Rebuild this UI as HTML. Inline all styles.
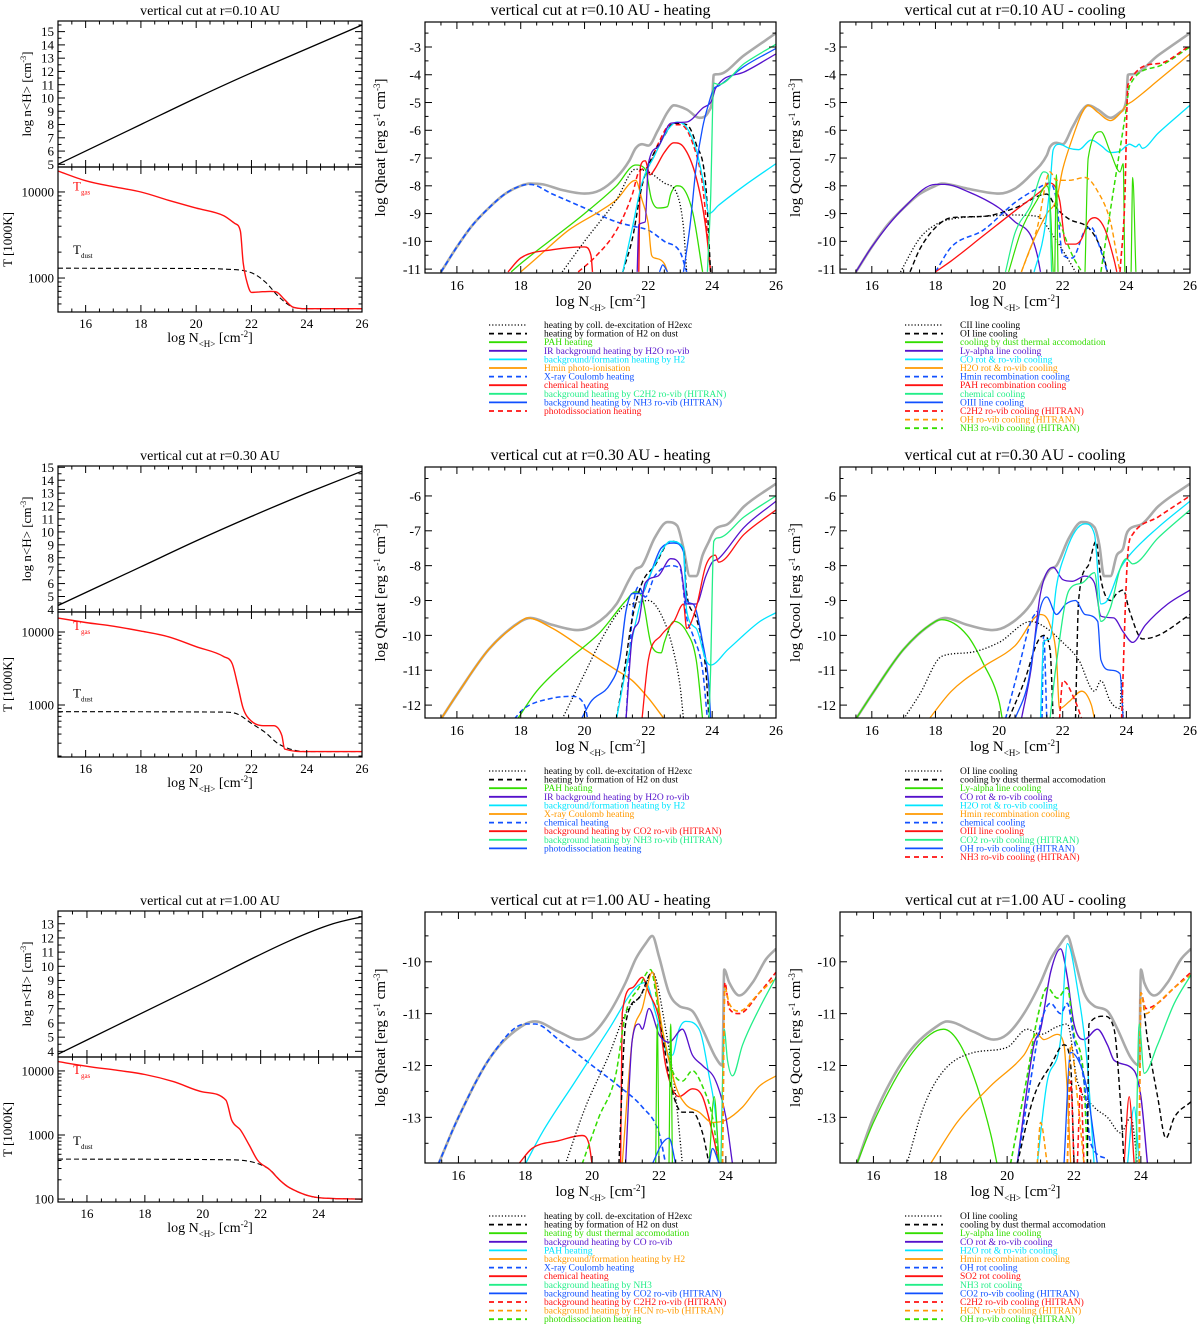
<!DOCTYPE html>
<html><head><meta charset="utf-8"><style>
html,body{margin:0;padding:0;background:#fff;}
svg{display:block;font-family:"Liberation Serif",serif;}
</style></head><body>
<svg id="fig" width="1200" height="1326" viewBox="0 0 1200 1326"></svg>
<script>
// ===== colors (style) =====
const C={gray:'#aaaaaa',blk:'#000',grn:'#33dd00',pur:'#5511cc',cyn:'#00e5ff',org:'#ff9900',blu:'#1050ff',red:'#ff1111',spg:'#22ee88'};
// ===== DATA: row 1 (r=0.10 AU) =====
const r1Dens=[[15,5.0],[18,8.0],[20,10.0],[22,11.9],[24,13.7],[26,15.5]];
const r1Tgas=[[15,17500],[16,13500],[17,11500],[18,10000],[19,8000],[20,6500],[21,5300],[21.4,4300],[21.6,3500],[21.7,1500],[21.8,1000],[22,680],[22.3,690],[22.7,700],[22.9,690],[23.2,560],[23.5,460],[24,440],[26,440]];
const r1Tdust=[[15,1300],[20,1290],[21,1270],[22,1150],[22.5,900],[23,600],[23.5,460],[24,440],[26,440]];
const h1Gray=[[15.5,-11.1],[16,-10.2],[16.5,-9.4],[17,-8.8],[17.5,-8.3],[18,-8.0],[18.3,-7.92],[18.7,-7.95],[19.3,-8.15],[20,-8.28],[20.5,-8.15],[21,-7.7],[21.4,-7.1],[21.6,-6.65],[21.8,-6.5],[22,-6.55],[22.3,-6.0],[22.6,-5.35],[22.8,-5.1],[23.2,-5.25],[23.6,-5.55],[23.9,-5.3],[24.0,-4.9],[24.05,-4.0],[24.2,-3.98],[25,-3.3],[26,-2.5]];
const h1Xray=[[15.5,-11.1],[16,-10.2],[16.5,-9.4],[17,-8.8],[17.5,-8.3],[18,-8.0],[18.3,-7.95],[19,-8.3],[20,-8.8],[21,-9.3],[21.5,-9.45],[22,-9.6],[22.5,-10.0],[23,-10.4],[23.2,-11.1]];
const h1Pah=[[17.7,-11.1],[18,-10.8],[19,-9.9],[20,-9.0],[21,-8.0],[21.6,-7.25],[21.9,-7.4],[22.1,-8.5],[22.3,-8.8],[22.6,-8.75],[22.7,-8.3],[22.9,-8.0],[23.1,-8.1],[23.4,-9.0],[23.7,-11.1]];
const h1Hmin=[[18,-11.1],[18.5,-10.6],[19.5,-9.6],[20.5,-8.9],[21,-8.5],[21.6,-7.8],[21.8,-8.5],[22,-9.4],[22.1,-10.5],[22.2,-10.6],[22.5,-10.8],[22.6,-11.1]];
const h1ChemA=[[17.6,-11.1],[18,-10.6],[19,-10.3],[20,-10.2],[20.2,-10.5],[20.25,-11.1]];
const h1ChemB=[[21.7,-11.1],[21.75,-7.3],[21.9,-7.1],[22.05,-7.6],[22.2,-7.4],[22.5,-6.8],[22.8,-6.45],[23.1,-6.6],[23.5,-7.7],[23.8,-9.5],[23.95,-11.1]];
const h1Photo=[[19.8,-11.1],[20.3,-10.6],[21,-9.6],[21.5,-8.3],[21.7,-7.5],[22,-7.3],[22.3,-6.5],[22.7,-5.8],[23,-5.8],[23.4,-6.5],[23.7,-8.0],[23.95,-11.1]];
const h1Coll=[[19.3,-11.1],[20,-10],[21,-8.5],[21.6,-7.4],[22,-7.5],[22.5,-7.9],[22.9,-8.3],[23.1,-9.5],[23.2,-11.1]];
const h1Form=[[21.2,-11.1],[21.5,-9.9],[21.8,-8],[22.1,-7],[22.5,-6.2],[22.8,-5.75],[23.2,-5.8],[23.5,-6.5],[23.8,-8],[23.95,-11.1]];
const h1H2=[[21.2,-11.1],[21.5,-9.5],[21.8,-7.9],[22.2,-6.9],[22.6,-6],[22.9,-5.7],[23.2,-5.9],[23.5,-6.7],[23.75,-8],[23.9,-9],[24.2,-8.7],[25,-8],[26,-7.2]];
const h1H2O=[[21.65,-11.1],[21.7,-9.4],[21.9,-9.3],[22,-7.2],[22.3,-6.6],[22.7,-5.75],[23.2,-5.7],[23.7,-5.2],[24,-4.9],[24.1,-4.5],[25,-3.9],[26,-3.25]];
const h1Nh3A=[[22.35,-11.1],[22.45,-10.85],[22.6,-11.1]];
const h1Nh3B=[[23.1,-11.1],[23.3,-9.5],[23.5,-7.3],[23.7,-5.9],[23.9,-5.0],[24.05,-4.5],[24.2,-4.4],[25,-3.7],[26,-3.05]];
const h1C2h2=[[23.85,-11.1],[23.95,-8.5],[24.05,-4.3],[24.2,-4.35],[25,-3.6],[26,-2.9]];
const c1Gray=[[15.5,-11.1],[16,-10.2],[16.5,-9.4],[17,-8.8],[17.5,-8.3],[18,-8.0],[18.2,-7.92],[19,-8.1],[20,-8.28],[20.5,-8.1],[21,-7.6],[21.5,-6.9],[21.6,-6.6],[21.8,-6.45],[22,-6.5],[22.3,-5.9],[22.6,-5.3],[22.8,-5.1],[23.1,-5.25],[23.5,-5.55],[23.8,-5.35],[24,-4.9],[24.05,-4.0],[24.2,-3.98],[25,-3.3],[26,-2.5]];
const c1Lya=[[15.5,-11.1],[16,-10.2],[17,-8.8],[18,-7.95],[18.3,-7.95],[19,-8.2],[20,-8.8],[20.5,-9.3],[21,-9.8],[21.2,-10.5],[21.3,-11.1]];
const c1CII=[[16.9,-11.1],[17.5,-9.9],[18,-9.4],[18.5,-9.2],[19.5,-9.1],[20.5,-9.05],[21.2,-9.1],[21.7,-9.8],[22.2,-10.7],[22.4,-11.1]];
const c1OI=[[17.2,-11.1],[17.5,-10.3],[18,-9.5],[18.5,-9.15],[19.5,-9.1],[20.5,-8.8],[21.5,-8.3],[21.8,-8.8],[22.2,-9.2],[22.8,-9.5],[23.1,-10],[23.3,-10.6],[23.4,-11.1]];
const c1Hmin=[[18,-11.1],[18.5,-10.2],[19.5,-9.6],[20.5,-8.6],[21.2,-8.1],[21.6,-7.9],[21.8,-8.5],[22,-10.5],[22.3,-10.6],[22.7,-9.6],[22.9,-9.5],[23.1,-10],[23.4,-11.1]];
const c1Pah=[[18,-11.1],[18.5,-10.7],[19.5,-9.8],[20.5,-8.9],[21.3,-8.2],[21.6,-7.9],[21.9,-8.5],[22.1,-10.1],[22.4,-10.1],[22.6,-9.9],[22.8,-9.3],[23,-9.15],[23.3,-9.5],[23.6,-10.6],[23.7,-11.1]];
const c1H2O=[[20.7,-11.1],[21,-10.2],[21.5,-9],[21.8,-8.5],[22,-7.4],[22.3,-6.3],[22.6,-5.4],[22.8,-5.1],[23.1,-5.35],[23.5,-5.65],[23.8,-5.4],[24,-5.1],[24.2,-4.95],[25,-4.2],[26,-3.25]];
const c1CO=[[21.1,-11.1],[21.4,-9.8],[21.6,-8],[21.7,-6.7],[21.9,-6.5],[22.2,-6.65],[22.5,-6.7],[22.9,-6.35],[23.2,-6.55],[23.5,-6.8],[23.8,-6.75],[24.1,-6.5],[24.3,-6.6],[24.4,-6.5],[24.5,-6.65],[25,-6.1],[26,-5.1]];
const c1DustA=[[20.3,-11.1],[20.7,-9.6],[21.2,-8.5],[21.5,-8.0],[21.6,-8.6],[21.7,-11.1]];
const c1DustB=[[21.75,-11.1],[21.8,-7.6],[21.85,-11.1]];
const c1DustC=[[22.7,-11.1],[22.8,-7],[23.2,-6.05],[23.5,-6.8],[23.8,-7.5],[23.9,-7.2],[23.95,-11.1]];
const c1DustD=[[24.15,-11.1],[24.2,-7.7],[24.3,-11.1]];
const c1Chem=[[20.2,-11.1],[20.5,-9.7],[21,-8.7],[21.4,-7.5],[21.55,-7.6],[21.65,-11.1]];
const c1OH=[[20.7,-11.1],[21.2,-9.5],[21.6,-7.5],[21.8,-7.8],[22.2,-7.8],[22.7,-7.7],[23.1,-8.2],[23.5,-9.3],[23.7,-10.5],[23.8,-11.1]];
const c1Nh3A=[[21.9,-9.3],[22.3,-10.5],[22.6,-11.1]];
const c1Nh3B=[[23.2,-11.1],[23.4,-9.6],[23.7,-7.4],[24,-5.2],[24.1,-4.4],[25,-3.7],[26,-3.0]];
const c1C2h2=[[23.8,-11.1],[23.95,-8.5],[24.05,-4.35],[25,-3.6],[26,-2.95]];
// ===== DATA: row 2 (r=0.30 AU) =====
const r2Dens=[[15,4.3],[18,7.3],[20,9.3],[22,11.2],[24,13.0],[26,14.7]];
const r2Tgas=[[15,15500],[16,13500],[17,12000],[18,10300],[19,8600],[20,6300],[21,4600],[21.3,3700],[21.5,1900],[21.7,900],[22,600],[22.5,520],[22.8,520],[23.1,380],[23.2,250],[24,230],[26,230]];
const r2Tdust=[[15,810],[21,800],[21.5,750],[22,560],[22.5,420],[23,290],[24,230],[26,230]];
const h2Gray=[[15.5,-12.4],[16,-11.7],[17,-10.4],[18,-9.6],[18.3,-9.5],[19,-9.7],[19.8,-9.85],[20.3,-9.7],[21,-9.1],[21.4,-8.4],[21.6,-8.1],[21.8,-8.0],[22.2,-7.2],[22.6,-6.75],[22.9,-6.85],[23.1,-7.5],[23.3,-8.3],[23.5,-8.3],[23.7,-7.7],[23.9,-7.3],[24,-7.1],[24.1,-6.95],[24.5,-6.8],[25,-6.3],[26,-5.65]];
const h2Xray=[[15.5,-12.4],[16,-11.7],[17,-10.4],[18,-9.6],[18.2,-9.5],[19,-9.8],[20,-10.4],[21,-11.0],[21.5,-11.3],[22,-11.8],[22.5,-12.4]];
const h2Pah=[[17.9,-12.4],[18.5,-11.6],[19.5,-10.7],[20.5,-9.9],[21.3,-9.0],[21.6,-8.75],[21.8,-8.9],[22.1,-10.3],[22.4,-10.5],[22.5,-10.2],[22.8,-9.6],[23.2,-9.9],[23.5,-10.7],[23.7,-12.4]];
const h2ChemA=[[17.8,-12.4],[18.1,-12.1],[19,-11.8],[19.6,-11.75],[20,-12.0],[20.1,-12.4]];
const h2ChemB=[[21.3,-12.4],[21.5,-9.4],[21.7,-8.6],[21.9,-8.9],[22.2,-8.3],[22.7,-8.0],[23.0,-8.1],[23.2,-9.5],[23.4,-10],[23.7,-11],[23.85,-12.4]];
const h2Coll=[[19.3,-12.4],[20,-11.1],[20.6,-10],[21.2,-9.2],[21.5,-9.1],[22,-9.0],[22.5,-9.6],[22.8,-10.5],[23,-11.5],[23.1,-12.4]];
const h2Form=[[21.0,-12.4],[21.2,-11.3],[21.5,-9.5],[21.8,-8.5],[22.2,-8.0],[22.7,-7.3],[23.1,-7.5],[23.2,-8.8],[23.5,-9.5],[23.8,-11],[23.9,-12.4]];
const h2Photo=[[19.9,-12.4],[20.2,-11.9],[20.8,-11.4],[21.1,-10.7],[21.3,-9.3],[21.5,-8.8],[21.8,-8.8],[22,-8.4],[22.4,-7.5],[22.8,-7.35],[23.1,-7.6],[23.2,-9.0],[23.4,-9.1],[23.7,-10.2],[23.9,-11.5],[23.95,-12.4]];
const h2H2=[[21.0,-12.4],[21.4,-10.5],[21.8,-8.9],[22.3,-7.8],[22.7,-7.3],[23.1,-7.5],[23.2,-9.3],[23.5,-9.8],[23.8,-10.7],[23.95,-10.85],[24.5,-10.4],[25.5,-9.6],[26,-9.35]];
const h2H2O=[[21.3,-12.4],[21.5,-10],[21.7,-9.6],[21.9,-8.5],[22.3,-8.3],[22.7,-7.8],[23.0,-8.0],[23.2,-9.1],[23.5,-9.1],[23.8,-8.3],[24,-7.9],[24.2,-7.8],[25,-6.9],[26,-6.15]];
const h2CO2=[[21.8,-12.4],[22,-10.7],[22.4,-10],[22.8,-9.6],[23.1,-9.1],[23.2,-9.8],[23.5,-9.2],[23.8,-8.0],[24.1,-7.7],[24.2,-7.9],[25,-7.1],[26,-6.4]];
const h2Nh3=[[23.9,-12.4],[23.95,-11],[24.05,-7.3],[24.2,-7.2],[25,-6.6],[26,-6.0]];
const c2Gray=[[15.5,-12.4],[16,-11.7],[17,-10.4],[18,-9.6],[18.3,-9.5],[19,-9.7],[19.8,-9.85],[20.3,-9.7],[21,-9.1],[21.4,-8.4],[21.6,-8.1],[21.8,-8.0],[22.2,-7.2],[22.6,-6.75],[23.0,-6.9],[23.15,-7.4],[23.3,-8.3],[23.5,-8.3],[23.7,-7.7],[23.9,-7.5],[24,-7.1],[24.1,-6.95],[24.5,-6.8],[25,-6.3],[26,-5.65]];
const c2Lya=[[15.5,-12.4],[16,-11.7],[17,-10.4],[18,-9.6],[18.2,-9.55],[19,-10.0],[19.5,-10.8],[20,-11.9],[20.1,-12.4]];
const c2OI=[[17,-12.4],[17.5,-11.7],[18.2,-10.6],[19,-10.5],[20,-10.2],[21,-9.6],[21.5,-9.8],[22,-10.2],[22.5,-10.7],[23,-11.6],[23.2,-11.3],[23.5,-11.9],[23.8,-12.1],[23.85,-11.3],[23.9,-12.4]];
const c2Hmin=[[17.8,-12.4],[18.5,-11.6],[19.5,-10.9],[20.5,-10.3],[21.3,-9.4],[21.6,-9.7],[21.8,-10.6],[21.9,-12.1],[22.2,-11.9],[22.6,-11.6],[22.9,-12.0],[23.0,-12.4]];
const c2ChemA=[[20.2,-12.4],[20.6,-11],[21,-9.6],[21.2,-9.3]];
const c2ChemB=[[21.35,-12.4],[21.4,-10.0],[21.5,-12.4]];
const c2DustA=[[20.3,-12.4],[20.8,-11.3],[21.2,-10.2],[21.4,-10],[21.6,-10.4],[21.7,-12.4]];
const c2DustB=[[22.4,-12.4],[22.5,-9],[22.8,-8],[23.05,-7.3],[23.2,-8.4],[23.5,-9.0],[23.7,-8.8],[23.9,-8.7],[24.1,-9.3],[24.5,-10.1],[25,-10],[26,-9.4]];
const c2CO=[[20.7,-12.4],[21,-11],[21.3,-8.8],[21.7,-8.05],[22,-8.4],[22.3,-8.45],[22.7,-8.3],[23,-8.5],[23.2,-9.45],[23.6,-9.5],[23.9,-9.9],[24.2,-10.2],[24.6,-9.7],[25.3,-9.1],[26,-8.7]];
const c2H2O=[[21.3,-12.4],[21.4,-10.2],[21.6,-10.1],[21.8,-8.6],[22.1,-7.6],[22.4,-7.0],[22.7,-6.8],[23,-7.1],[23.2,-9.1],[23.4,-9.0],[23.8,-8.1],[24.1,-7.7],[25,-6.9],[26,-6.15]];
const c2OH=[[20.5,-12.4],[20.9,-11.4],[21.3,-9.2],[21.5,-8.9],[21.8,-9.4],[22.1,-9.1],[22.4,-9.0],[22.7,-9.4],[23.1,-9.6],[23.2,-10.7],[23.5,-11.0],[23.8,-11.1],[23.9,-12.4]];
const c2CO2=[[21.6,-12.4],[21.8,-10.8],[22.2,-8.7],[22.6,-8.5],[23,-8.2],[23.2,-9.6],[23.5,-9.2],[23.8,-8.1],[24,-7.8],[24.2,-7.95],[25,-7.2],[26,-6.4]];
const c2Nh3A=[[21.9,-12.4],[22.0,-11.3],[22.4,-11.9],[22.6,-12.4]];
const c2Nh3B=[[23.85,-12.4],[24.05,-7.6],[24.2,-7.1],[25,-6.6],[26,-6.0]];
// ===== DATA: row 3 (r=1.00 AU) =====
const r3Dens=[[15,3.8],[17,5.8],[20,8.8],[23,11.8],[24.5,13.0],[25.5,13.5]];
const r3Tgas=[[15,14000],[16,11800],[17,10300],[18,8800],[19,6800],[20,4700],[20.8,3500],[21,1700],[21.3,1200],[21.6,700],[21.9,400],[22.3,290],[22.7,190],[23,150],[24,105],[25.5,100]];
const r3Tdust=[[15,420],[21,410],[21.8,370],[22.3,290],[22.7,190],[23,150],[24,105],[25.5,100]];
const h3Gray=[[15.4,-13.9],[16,-13.0],[17,-11.8],[18,-11.2],[18.3,-11.15],[19,-11.35],[19.6,-11.5],[20,-11.4],[20.5,-11],[21,-10.4],[21.3,-9.95],[21.6,-9.65],[21.8,-9.5],[22,-9.9],[22.3,-10.6],[22.6,-10.85],[23,-10.95],[23.3,-11.3],[23.7,-11.85],[23.9,-12],[23.95,-10.15],[24.1,-10.4],[24.4,-10.65],[24.8,-10.4],[25.2,-9.95],[25.5,-9.75]];
const h3Xray=[[15.4,-13.9],[16,-13.0],[17,-11.8],[18,-11.2],[18.3,-11.2],[19,-11.5],[20,-12.0],[20.8,-12.4],[21.5,-12.8],[22,-13.3],[22.2,-13.9]];
const h3Pah=[[18,-13.9],[18.5,-13.3],[19.5,-12.3],[20.5,-11.3],[21.3,-10.5],[21.6,-10.4],[21.9,-11.0],[22.2,-11.7],[22.4,-11.8],[22.6,-11.3],[22.8,-11.15],[23.2,-11.3],[23.5,-12.2],[23.7,-13],[23.8,-13.9]];
const h3ChemA=[[17.8,-13.9],[18.2,-13.6],[19,-13.45],[19.7,-13.35],[19.9,-13.5],[20,-13.9]];
const h3ChemB=[[20.85,-13.9],[20.9,-11.0],[21.2,-10.5],[21.5,-10.3],[21.7,-10.6],[22,-11.1],[22.2,-12],[22.6,-12.6],[23,-12.45],[23.3,-12.6],[23.6,-13.3],[23.8,-13.9]];
const h3Coll=[[19.2,-13.9],[19.8,-12.8],[20.5,-11.8],[21,-11.0],[21.5,-10.6],[21.8,-10.2],[22.2,-11.3],[22.5,-12.6],[22.7,-13.9]];
const h3Form=[[20.8,-13.9],[21.0,-11.2],[21.4,-10.7],[21.8,-10.2],[22.1,-11.4],[22.4,-12.5],[22.7,-12.9],[23.0,-12.9],[23.3,-13.3],[23.5,-13.9]];
const h3Photo=[[19.7,-13.9],[20.2,-13],[20.7,-12.2],[21,-11],[21.4,-10.5],[21.75,-10.15],[22,-11.0],[22.4,-12.1],[22.7,-12.3],[23,-12.1],[23.3,-12.4],[23.6,-13],[23.8,-13.9]];
const h3H2=[[20.9,-13.9],[21.2,-11.5],[21.5,-10.9],[21.8,-10.2],[22.1,-11.3],[22.5,-12.4],[22.8,-12.75],[23.2,-12.9],[23.6,-13.1],[24,-13.05],[24.5,-12.8],[25,-12.4],[25.5,-12.2]];
const h3CO=[[21.0,-13.9],[21.2,-11.5],[21.4,-11.2],[21.5,-11.3],[21.7,-10.9],[22,-11.4],[22.3,-11.55],[22.7,-11.3],[23.0,-11.8],[23.3,-12.0],[23.7,-12.3],[24,-13],[24.2,-13.9]];
const h3DustA=[[21.9,-13.9],[21.95,-11.2],[22.0,-13.9]];
const h3DustB=[[22.3,-13.9],[22.35,-11.2],[22.4,-13.9]];
const h3DustC=[[23.5,-13.9],[23.65,-12.6],[23.8,-13.9]];
const h3Nh3=[[23.85,-13.9],[23.95,-11.3],[24.05,-11.9],[24.2,-12.2],[24.5,-11.6],[25,-10.9],[25.5,-10.3]];
const h3C2h2=[[23.9,-13.9],[23.97,-10.4],[24.1,-10.9],[24.4,-11.0],[25,-10.6],[25.5,-10.2]];
const h3Hcn=[[23.9,-13.9],[23.97,-10.5],[24.1,-10.8],[24.4,-10.95],[25,-10.6],[25.5,-10.3]];
const h3CO2A=[[21.8,-13.9],[22.1,-13.5],[22.3,-13.4],[22.5,-13.9]];
const h3CO2B=[[23.5,-13.9],[23.6,-13.6],[23.8,-13.9]];
const c3Gray=[[15.5,-13.9],[16,-13.0],[17,-11.8],[18,-11.2],[18.2,-11.15],[19,-11.35],[19.6,-11.5],[20,-11.4],[20.5,-11],[21,-10.4],[21.3,-9.95],[21.6,-9.65],[21.8,-9.5],[22,-9.9],[22.3,-10.6],[22.6,-10.85],[23,-10.95],[23.3,-11.3],[23.7,-11.85],[23.95,-12],[24,-10.15],[24.1,-10.4],[24.4,-10.65],[24.8,-10.4],[25.2,-9.95],[25.5,-9.75]];
const c3Lya=[[15.5,-13.9],[16,-13.1],[17,-11.9],[17.7,-11.4],[18.1,-11.3],[18.6,-11.6],[19.1,-12.4],[19.5,-13.3],[19.7,-13.9]];
const c3OI=[[17,-13.9],[17.5,-12.8],[18.1,-12.1],[19,-11.75],[20,-11.65],[20.6,-11.3],[21,-11.4],[21.5,-11.25],[21.8,-11.2],[22.1,-12.3],[22.6,-12.8],[23.0,-13.0],[23.4,-13.3],[23.7,-13.0],[23.9,-13.9]];
const c3Hmin=[[17.7,-13.9],[18.5,-13.1],[19.5,-12.4],[20.5,-11.8],[20.9,-11.4],[21.1,-11.5],[21.5,-11.4],[21.7,-11.6],[21.8,-12.5],[21.9,-13.9]];
const c3CO=[[20.3,-13.9],[20.8,-11.6],[21,-11.3],[21.3,-10.2],[21.6,-9.75],[21.8,-10.3],[22,-11.2],[22.3,-11.5],[22.7,-11.3],[23.0,-11.6],[23.2,-11.9],[23.8,-12.1],[24.0,-12.6],[24.2,-13.9]];
const c3H2OA=[[20.9,-13.9],[21.2,-12.3],[21.6,-11.5],[21.8,-9.65],[22.1,-10.5],[22.4,-12],[22.6,-13.9]];
const c3H2OB=[[23.6,-13.9],[23.8,-12.8],[23.95,-13.9]];
const c3OHvib=[[20.1,-13.9],[20.6,-12.2],[20.9,-11.1],[21.2,-10.5],[21.5,-10.7],[21.8,-10.5],[22,-11.4],[22.3,-12.3],[22.4,-13.9]];
const c3OHrot=[[20.3,-13.9],[20.7,-12.3],[21.0,-11.2],[21.3,-10.8],[21.6,-11.0],[21.8,-10.8],[22.0,-11.5],[22.3,-12.3],[22.5,-13.5],[23,-13.8]];
const c3DustA=[[20.3,-13.9],[20.8,-12.6],[21.3,-12.0],[21.7,-11.6],[21.9,-12.0],[22.0,-13.9]];
const c3DustB=[[22.4,-13.9],[22.45,-11.2],[22.9,-11.05],[23.2,-11.3],[23.4,-12.8],[23.5,-13.9]];
const c3DustC=[[23.95,-13.9],[24.0,-10.6],[24.2,-11.5],[24.5,-12.6],[24.75,-13.4],[25,-13.0],[25.5,-12.7]];
const c3CO2=[[21.7,-13.9],[21.9,-11.75],[22.2,-12.0],[22.4,-12.5],[22.7,-13.9]];
const c3SO2=[[23.5,-13.9],[23.65,-12.6],[23.8,-13.9]];
const c3C2h2A=[[21.8,-13.9],[21.9,-12.3],[22.0,-13.9]];
const c3C2h2B=[[22.1,-13.9],[22.2,-12.4],[22.3,-13.9]];
const c3C2h2C=[[23.95,-13.9],[24.0,-10.6],[24.15,-10.9],[24.5,-10.8],[25,-10.5],[25.5,-10.2]];
const c3HcnA=[[20.9,-13.9],[21.0,-13.1],[21.2,-13.9]];
const c3HcnB=[[21.8,-13.9],[21.9,-11.6],[22.1,-12.6],[22.3,-13.9]];
const c3HcnC=[[23.95,-13.9],[24.0,-10.6],[24.15,-11.0],[24.5,-10.8],[25,-10.5],[25.5,-10.25]];
const c3Nh3=[[23.85,-13.9],[23.95,-11.2],[24.1,-12.15],[24.5,-11.6],[25,-10.8],[25.5,-10.25]];
// ===== legend labels =====
const legH1=[['heating by coll. de-excitation of H2exc','blk','dot'],['heating by formation of H2 on dust','blk','dash'],['PAH heating','grn',''],['IR background heating by H2O ro-vib','pur',''],['background/formation heating by H2','cyn',''],['Hmin photo-ionisation','org',''],['X-ray Coulomb heating','blu','dash'],['chemical heating','red',''],['background heating by C2H2 ro-vib (HITRAN)','spg',''],['background heating by NH3 ro-vib (HITRAN)','blu',''],['photodissociation heating','red','dash']];
const legC1=[['CII line cooling','blk','dot'],['OI line cooling','blk','dash'],['cooling by dust thermal accomodation','grn',''],['Ly-alpha line cooling','pur',''],['CO rot & ro-vib cooling','cyn',''],['H2O rot & ro-vib cooling','org',''],['Hmin recombination cooling','blu','dash'],['PAH recombination cooling','red',''],['chemical cooling','spg',''],['OIII line cooling','blu',''],['C2H2 ro-vib cooling (HITRAN)','red','dash'],['OH ro-vib cooling (HITRAN)','org','dash'],['NH3 ro-vib cooling (HITRAN)','grn','dash']];
const legH2=[['heating by coll. de-excitation of H2exc','blk','dot'],['heating by formation of H2 on dust','blk','dash'],['PAH heating','grn',''],['IR background heating by H2O ro-vib','pur',''],['background/formation heating by H2','cyn',''],['X-ray Coulomb heating','org',''],['chemical heating','blu','dash'],['background heating by CO2 ro-vib (HITRAN)','red',''],['background heating by NH3 ro-vib (HITRAN)','spg',''],['photodissociation heating','blu','']];
const legC2=[['OI line cooling','blk','dot'],['cooling by dust thermal accomodation','blk','dash'],['Ly-alpha line cooling','grn',''],['CO rot & ro-vib cooling','pur',''],['H2O rot & ro-vib cooling','cyn',''],['Hmin recombination cooling','org',''],['chemical cooling','blu','dash'],['OIII line cooling','red',''],['CO2 ro-vib cooling (HITRAN)','spg',''],['OH ro-vib cooling (HITRAN)','blu',''],['NH3 ro-vib cooling (HITRAN)','red','dash']];
const legH3=[['heating by coll. de-excitation of H2exc','blk','dot'],['heating by formation of H2 on dust','blk','dash'],['heating by dust thermal accomodation','grn',''],['background heating by CO ro-vib','pur',''],['PAH heating','cyn',''],['background/formation heating by H2','org',''],['X-ray Coulomb heating','blu','dash'],['chemical heating','red',''],['background heating by NH3','spg',''],['background heating by CO2 ro-vib (HITRAN)','blu',''],['background heating by C2H2 ro-vib (HITRAN)','red','dash'],['background heating by HCN ro-vib (HITRAN)','org','dash'],['photodissociation heating','grn','dash']];
const legC3=[['OI line cooling','blk','dot'],['cooling by dust thermal accomodation','blk','dash'],['Ly-alpha line cooling','grn',''],['CO rot & ro-vib cooling','pur',''],['H2O rot & ro-vib cooling','cyn',''],['Hmin recombination cooling','org',''],['OH rot cooling','blu','dash'],['SO2 rot cooling','red',''],['NH3 rot cooling','spg',''],['CO2 ro-vib cooling (HITRAN)','blu',''],['C2H2 ro-vib cooling (HITRAN)','red','dash'],['HCN ro-vib cooling (HITRAN)','org','dash'],['OH ro-vib cooling (HITRAN)','grn','dash']];

// ===== rendering =====
const NS='http://www.w3.org/2000/svg';
const svg=document.getElementById('fig');
let clipN=0;
function el(tag,attrs,parent){const e=document.createElementNS(NS,tag);for(const k in attrs)e.setAttribute(k,attrs[k]);(parent||svg).appendChild(e);return e;}
function dashOf(d){return d==='dot'?'1.2,2':(d==='dash'?'5,3':'none');}
function mkScale(d0,d1,p0,p1){return v=>p0+(v-d0)/(d1-d0)*(p1-p0);}
function mkLog(d0,d1,p0,p1){return v=>p0+(Math.log10(v)-Math.log10(d0))/(Math.log10(d1)-Math.log10(d0))*(p1-p0);}
function frame(L,T,R,B,name){
  const r=el('rect',{x:L,y:T,width:R-L,height:B-T,fill:'none',stroke:'#000','stroke-width':1.2});
  
  
}
function clipG(L,T,R,B,name){
  const id='cp'+(clipN++);
  const cp=el('clipPath',{id:id});el('rect',{x:L,y:T,width:R-L,height:B-T},cp);
  const g=el('g',{'clip-path':'url(#'+id+')'});
  
  
  return g;
}
// monotone cubic (Fritsch-Carlson) path in pixel space
function smoothPath(P){
  const n=P.length;if(n<3)return P.map((p,i)=>(i?'L':'M')+p[0].toFixed(1)+','+p[1].toFixed(1)).join('');
  const dx=[],s=[];for(let i=0;i<n-1;i++){dx.push(P[i+1][0]-P[i][0]||1e-6);s.push((P[i+1][1]-P[i][1])/dx[i]);}
  const m=[s[0]];for(let i=1;i<n-1;i++){m.push(s[i-1]*s[i]<=0?0:(s[i-1]+s[i])/2);}m.push(s[n-2]);
  for(let i=0;i<n-1;i++){if(s[i]===0){m[i]=0;m[i+1]=0;continue;}const a=m[i]/s[i],b=m[i+1]/s[i],h=a*a+b*b;if(h>9){const t=3/Math.sqrt(h);m[i]=t*a*s[i];m[i+1]=t*b*s[i];}}
  let d='M'+P[0][0].toFixed(1)+','+P[0][1].toFixed(1);
  for(let i=0;i<n-1;i++){const h=dx[i]/3;
    d+='C'+(P[i][0]+h).toFixed(1)+','+(P[i][1]+m[i]*h).toFixed(1)+' '+(P[i+1][0]-h).toFixed(1)+','+(P[i+1][1]-m[i+1]*h).toFixed(1)+' '+P[i+1][0].toFixed(1)+','+P[i+1][1].toFixed(1);}
  return d;
}
function series(g,sx,sy,pts,col,dash,w,name){
  const P=pts.map(p=>[sx(p[0]),sy(p[1])]);
  const p=el('path',{d:smoothPath(P),fill:'none',stroke:C[col]||col,'stroke-width':w||1.3,'stroke-dasharray':dashOf(dash),'stroke-linejoin':'round'},g);
  
  
}
function txt(x,y,s,size,anchor,fill,name,rot){
  const t=el('text',{x:x,y:y,'font-size':size,'text-anchor':anchor||'middle',fill:fill||'#000'});
  if(rot)t.setAttribute('transform','rotate(-90 '+x+' '+y+')');
  t.innerHTML=s;
  
  
  return t;
}
function xTicks(L,T,R,B,sx,x0,x1,labels,fs,name){
  for(let v=Math.ceil(x0*2)/2;v<=x1+1e-9;v+=0.5){
    const X=sx(v);const maj=Math.abs(v/2-Math.round(v/2))<1e-6;const len=maj?7:3.5;
    el('line',{x1:X,y1:B,x2:X,y2:B-len,stroke:'#000','stroke-width':1});
    el('line',{x1:X,y1:T,x2:X,y2:T+len,stroke:'#000','stroke-width':1});
    if(maj&&labels&&v>x0+0.1)txt(X,B+fs+3,String(v),fs,'middle','#000',name);
  }
}
function yTicksLin(L,T,R,B,sy,y0,y1,step,minor,fs,name){
  for(let v=Math.ceil(y0/minor)*minor;v<=y1+1e-9;v+=minor){
    const Y=sy(v);const maj=Math.abs(v/step-Math.round(v/step))<1e-6;const len=maj?7:3.5;
    el('line',{x1:L,y1:Y,x2:L+len,y2:Y,stroke:'#000','stroke-width':1});
    el('line',{x1:R,y1:Y,x2:R-len,y2:Y,stroke:'#000','stroke-width':1});
    if(maj)txt(L-4,Y+fs*0.35,String(Math.round(v)),fs,'end','#000',name);
  }
}
function yTicksLog(L,T,R,B,sy,t0,t1,fs,name){
  for(let e=1;e<=5;e++)for(let m=1;m<10;m++){
    const v=m*Math.pow(10,e);if(v<t0||v>t1)continue;
    const Y=sy(v);const len=m===1?7:3.5;
    el('line',{x1:L,y1:Y,x2:L+len,y2:Y,stroke:'#000','stroke-width':1});
    el('line',{x1:R,y1:Y,x2:R-len,y2:Y,stroke:'#000','stroke-width':1});
    if(m===1)txt(L-4,Y+fs*0.35,String(v),fs,'end','#000',name);
  }
}
const xLab='log N<tspan font-size="9" dy="5">&lt;H&gt;</tspan><tspan dy="-5"> [cm</tspan><tspan font-size="9" dy="-5">-2</tspan><tspan dy="5">]</tspan>';
function leftPanel(off,title,x1,dens,dR,tgas,tdust,tR){
  const L=58,R=362,T=21+off,M=167+off,B=312+off;
  txt(210,15+off,title,14,'middle','#000','left-panel-title');
  const sx=mkScale(15,x1,L,R);
  const sy=mkScale(dR[0],dR[1],M,T);
  const st=mkLog(tR[0],tR[1],B,M);
  const g1=clipG(L,T,R,M,'density-plot');
  series(g1,sx,sy,dens,'blk','',1.3,'density-line');
  const g2=clipG(L,M,R,B,'temperature-plot');
  series(g2,sx,st,tdust,'blk','dash',1.1,'tdust-line');
  series(g2,sx,st,tgas,'red','',1.4,'tgas-line');
  xTicks(L,T,R,M,sx,15,x1,false,13,'x-tick');
  xTicks(L,M,R,B,sx,15,x1,true,13,'x-tick-label');
  yTicksLin(L,T,R,M,sy,dR[0],dR[1],1,0.5,13,'density-tick-label');
  yTicksLog(L,M,R,B,st,tR[0],tR[1],13,'temperature-tick-label');
  frame(L,T,R,M,'density-axes');frame(L,M,R,B,'temperature-axes');
  txt(31,(T+M)/2,'log n&lt;H&gt; [cm<tspan font-size="8" dy="-5">-3</tspan><tspan dy="5">]</tspan>',13,'middle','#000','density-y-title',true);
  txt(12,(M+B)/2,'T [1000K]',13,'middle','#000','temperature-y-title',true);
  txt(210,B+30,xLab,14,'middle','#000','x-axis-title');
  txt(73,st(tgas[2][1])+4,'T<tspan font-size="7" dy="4">gas</tspan>',13,'start',C.red,'tgas-label');
  txt(73,st(tdust[0][1])-14,'T<tspan font-size="7" dy="4">dust</tspan>',13,'start','#000','tdust-label');
}
function qPanel(L,R,off,x1,yR,title,ylab,list,name){
  const T=22+off,B=273+off;
  txt((L+R)/2,15+off,title,16,'middle','#000',name+'-title');
  const sx=mkScale(15,x1,L,R),sy=mkScale(yR[0],yR[1],B,T);
  const g=clipG(L,T,R,B,name+'-plot');
  list.forEach(s=>series(g,sx,sy,s[0],s[1],s[2],s[3],s[4]));
  xTicks(L,T,R,B,sx,15,x1,true,14,'x-tick-label');
  yTicksLin(L,T,R,B,sy,yR[0],yR[1],1,0.5,14,'y-tick-label');
  frame(L,T,R,B,name+'-axes');
  txt(L-40,(T+B)/2,ylab+' [erg s<tspan font-size="9" dy="-5">-1</tspan><tspan dy="5"> cm</tspan><tspan font-size="9" dy="-5">-3</tspan><tspan dy="5">]</tspan>',15,'middle','#000',name+'-y-title',true);
  txt((L+R)/2,B+33,xLab,15,'middle','#000',name+'-x-title');
}
function legend(x,y,items,name){
  items.forEach((it,i)=>{
    const Y=y+i*8.6;
    const ln=el('line',{x1:x,y1:Y,x2:x+38,y2:Y,stroke:C[it[1]],'stroke-width':it[2]==='dot'?1.3:1.8,'stroke-dasharray':it[2]==='dot'?'1.2,2':(it[2]==='dash'?'5,4':'none')});
    
    
    txt(x+55,Y+3,it[0],9.5,'start',C[it[1]],name+'-label');
  });
}
// Row 1
leftPanel(0,'vertical cut at r=0.10 AU',26,r1Dens,[4.8,15.8],r1Tgas,r1Tdust,[403,19500]);
qPanel(425,776,0,26,[-11.14,-2.1],'vertical cut at r=0.10 AU - heating','log Qheat',[
 [h1Gray,'gray','',2.6,'total-heating'],[h1Xray,'blu','dash',1.6,'xray-heating'],[h1Pah,'grn','',1.3,'pah-heating'],[h1Hmin,'org','',1.3,'hmin-heating'],
 [h1ChemA,'red','',1.4,'chemical-heating'],[h1ChemB,'red','',1.4,'chemical-heating'],[h1Photo,'red','dash',1.5,'photodissociation-heating'],[h1Coll,'blk','dot',1.3,'coll-heating'],
 [h1Form,'blk','dash',1.4,'h2-formation-heating'],[h1H2,'cyn','',1.3,'h2-heating'],[h1H2O,'pur','',1.3,'h2o-heating'],[h1Nh3A,'blu','',1.3,'nh3-heating'],[h1Nh3B,'blu','',1.3,'nh3-heating'],[h1C2h2,'spg','',1.3,'c2h2-heating']],'heating-r010');
qPanel(840,1190,0,26,[-11.14,-2.1],'vertical cut at r=0.10 AU - cooling','log Qcool',[
 [c1Gray,'gray','',2.6,'total-cooling'],[c1Lya,'pur','',1.3,'lya-cooling'],[c1CII,'blk','dot',1.3,'cii-cooling'],[c1OI,'blk','dash',1.4,'oi-cooling'],[c1Hmin,'blu','dash',1.5,'hmin-cooling'],
 [c1Pah,'red','',1.3,'pah-cooling'],[c1H2O,'org','',1.3,'h2o-cooling'],[c1CO,'cyn','',1.3,'co-cooling'],[c1DustA,'grn','',1.2,'dust-cooling'],[c1DustB,'grn','',1.2,'dust-cooling'],[c1DustC,'grn','',1.2,'dust-cooling'],[c1DustD,'grn','',1.2,'dust-cooling'],
 [c1Chem,'spg','',1.2,'chemical-cooling'],[c1OH,'org','dash',1.4,'oh-cooling'],[c1Nh3A,'grn','dash',1.4,'nh3-cooling'],[c1Nh3B,'grn','dash',1.5,'nh3-cooling'],[c1C2h2,'red','dash',1.6,'c2h2-cooling']],'cooling-r010');
legend(489,325,legH1,'heating-legend');legend(905,325,legC1,'cooling-legend');
// Row 2
leftPanel(445,'vertical cut at r=0.30 AU',26,r2Dens,[3.8,15.1],r2Tgas,r2Tdust,[194,18800]);
qPanel(425,776,445,26,[-12.37,-5.17],'vertical cut at r=0.30 AU - heating','log Qheat',[
 [h2Gray,'gray','',2.6,'total-heating'],[h2Xray,'org','',1.4,'xray-heating'],[h2Pah,'grn','',1.3,'pah-heating'],[h2ChemA,'blu','dash',1.5,'chemical-heating'],[h2ChemB,'blu','dash',1.5,'chemical-heating'],
 [h2Coll,'blk','dot',1.3,'coll-heating'],[h2Form,'blk','dash',1.4,'h2-formation-heating'],[h2Photo,'blu','',1.4,'photodissociation-heating'],[h2H2,'cyn','',1.3,'h2-heating'],[h2H2O,'pur','',1.3,'h2o-heating'],[h2CO2,'red','',1.3,'co2-heating'],[h2Nh3,'spg','',1.3,'nh3-heating']],'heating-r030');
qPanel(840,1190,445,26,[-12.37,-5.17],'vertical cut at r=0.30 AU - cooling','log Qcool',[
 [c2Gray,'gray','',2.6,'total-cooling'],[c2Lya,'grn','',1.3,'lya-cooling'],[c2OI,'blk','dot',1.3,'oi-cooling'],[c2Hmin,'org','',1.3,'hmin-cooling'],[c2ChemA,'blu','dash',1.5,'chemical-cooling'],[c2ChemB,'blu','dash',1.5,'chemical-cooling'],
 [c2DustA,'blk','dash',1.4,'dust-cooling'],[c2DustB,'blk','dash',1.4,'dust-cooling'],[c2CO,'pur','',1.3,'co-cooling'],[c2H2O,'cyn','',1.3,'h2o-cooling'],[c2OH,'blu','',1.3,'oh-cooling'],[c2CO2,'spg','',1.3,'co2-cooling'],[c2Nh3A,'red','dash',1.5,'nh3-cooling'],[c2Nh3B,'red','dash',1.6,'nh3-cooling']],'cooling-r030');
legend(489,771,legH2,'heating-legend');legend(905,771,legC2,'cooling-legend');
// Row 3
leftPanel(890,'vertical cut at r=1.00 AU',25.5,r3Dens,[3.6,13.9],r3Tgas,r3Tdust,[90,16500]);
qPanel(425,776,890,25.5,[-13.88,-9.04],'vertical cut at r=1.00 AU - heating','log Qheat',[
 [h3Gray,'gray','',2.6,'total-heating'],[h3Xray,'blu','dash',1.6,'xray-heating'],[h3Pah,'cyn','',1.3,'pah-heating'],[h3ChemA,'red','',1.4,'chemical-heating'],[h3ChemB,'red','',1.4,'chemical-heating'],
 [h3Coll,'blk','dot',1.3,'coll-heating'],[h3Form,'blk','dash',1.4,'h2-formation-heating'],[h3Photo,'grn','dash',1.5,'photodissociation-heating'],[h3H2,'org','',1.3,'h2-heating'],[h3CO,'pur','',1.3,'co-heating'],
 [h3DustA,'grn','',1.2,'dust-heating'],[h3DustB,'grn','',1.2,'dust-heating'],[h3DustC,'grn','',1.2,'dust-heating'],[h3Nh3,'spg','',1.3,'nh3-heating'],[h3C2h2,'red','dash',1.6,'c2h2-heating'],[h3Hcn,'org','dash',1.6,'hcn-heating'],[h3CO2A,'blu','',1.3,'co2-heating'],[h3CO2B,'blu','',1.3,'co2-heating']],'heating-r100');
qPanel(840,1191,890,25.5,[-13.88,-9.04],'vertical cut at r=1.00 AU - cooling','log Qcool',[
 [c3Gray,'gray','',2.6,'total-cooling'],[c3Lya,'grn','',1.3,'lya-cooling'],[c3OI,'blk','dot',1.3,'oi-cooling'],[c3Hmin,'org','',1.3,'hmin-cooling'],[c3CO,'pur','',1.4,'co-cooling'],[c3H2OA,'cyn','',1.3,'h2o-cooling'],[c3H2OB,'cyn','',1.3,'h2o-cooling'],
 [c3OHvib,'grn','dash',1.6,'oh-rovib-cooling'],[c3OHrot,'blu','dash',1.6,'oh-rot-cooling'],[c3DustA,'blk','dash',1.4,'dust-cooling'],[c3DustB,'blk','dash',1.4,'dust-cooling'],[c3DustC,'blk','dash',1.4,'dust-cooling'],
 [c3CO2,'blu','',1.3,'co2-cooling'],[c3SO2,'red','',1.3,'so2-cooling'],[c3C2h2A,'red','dash',1.5,'c2h2-cooling'],[c3C2h2B,'red','dash',1.5,'c2h2-cooling'],[c3C2h2C,'red','dash',1.6,'c2h2-cooling'],
 [c3HcnA,'org','dash',1.5,'hcn-cooling'],[c3HcnB,'org','dash',1.5,'hcn-cooling'],[c3HcnC,'org','dash',1.6,'hcn-cooling'],[c3Nh3,'spg','',1.3,'nh3-cooling']],'cooling-r100');
legend(489,1216,legH3,'heating-legend');legend(905,1216,legC3,'cooling-legend');
</script>
</body></html>
